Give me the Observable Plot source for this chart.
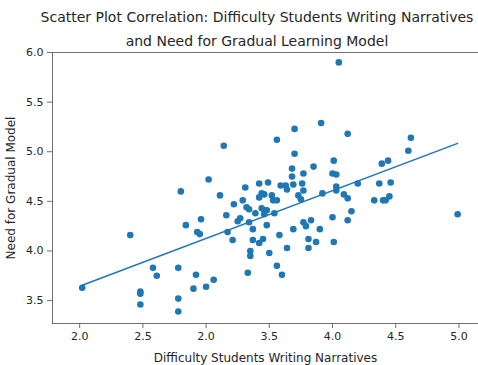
<!DOCTYPE html>
<html><head><meta charset="utf-8">
<script src="https://cdn.jsdelivr.net/npm/d3@7"></script>
<script src="https://cdn.jsdelivr.net/npm/@observablehq/plot@0.6"></script>
<style>
body{margin:0;background:#fff;font-family:"DejaVu Sans",sans-serif;}
#wrap{width:478px;height:365px;position:relative;overflow:hidden;background:#fff}
#title{height:48px;box-sizing:border-box;padding-top:5px;padding-left:36px;text-align:center;font-size:14px;line-height:24px;color:#262626;white-space:nowrap;position:relative;z-index:1}
</style></head><body>
<div id="wrap"><div id="title">Scatter Plot Correlation: Difficulty Students Writing Narratives<br>and Need for Gradual Learning Model</div><div id="chart"></div></div>
<script>
const xs = [
2.02,2.40,2.48,2.48,2.48,2.58,2.61,2.78,2.78,2.78,
2.80,2.84,2.93,2.95,2.96,3.02,3.11,2.92,2.90,3.00,
3.06,3.16,3.17,3.21,3.22,3.25,3.27,3.29,3.31,3.32,
3.34,3.34,3.37,3.37,3.39,3.35,3.35,3.33,3.42,3.42,
3.42,3.14,4.05,3.91,3.70,4.12,3.56,4.62,4.60,3.70,
4.44,4.39,4.01,3.68,3.85,3.68,3.77,4.00,4.03,3.49,
3.59,3.63,3.69,3.76,4.03,4.20,4.37,4.46,3.77,3.64,
4.03,3.44,3.46,3.52,3.53,3.56,3.44,3.46,3.48,3.46,
3.54,3.48,3.45,3.58,3.50,3.56,3.60,3.64,3.69,3.77,
3.79,3.83,3.90,3.81,3.87,3.81,3.73,3.75,3.92,4.00,
4.01,4.09,4.12,4.15,4.12,4.33,4.40,4.45,4.42,4.99];
const ys = [
3.63,4.16,3.59,3.57,3.46,3.83,3.75,3.83,3.52,3.39,
4.60,4.26,4.19,4.17,4.32,4.72,4.56,3.76,3.62,3.64,
3.71,4.36,4.19,4.11,4.47,4.30,4.33,4.51,4.64,4.44,
4.29,4.42,4.22,4.11,4.38,4.00,3.95,3.78,4.68,4.54,
4.08,5.06,5.90,5.29,5.23,5.18,5.12,5.14,5.01,4.98,
4.91,4.88,4.91,4.83,4.85,4.75,4.78,4.78,4.77,4.69,
4.66,4.66,4.67,4.68,4.65,4.68,4.68,4.69,4.61,4.62,
4.61,4.58,4.57,4.56,4.51,4.51,4.43,4.41,4.41,4.37,
4.38,4.26,4.12,4.16,3.98,3.85,3.76,4.03,4.22,4.29,
4.25,4.31,4.22,4.12,4.09,4.03,4.56,4.52,4.58,4.34,
4.09,4.57,4.53,4.40,4.31,4.51,4.51,4.55,4.51,4.37];
const xTicks = [2.0,2.5,3.0,3.5,4.0,4.5,5.0];
const xTickLabels = ["2.0","2.5","2.0","3.5","4.0","4.5","5.0"];
const yTicks = [3.5,4.0,4.5,5.0,5.5,6.0];
const yTickLabels = ["3.5","4.0","4.5","5.0","5.5","6.0"];
const xLabel = "Difficulty Students Writing Narratives";
const yLabel = "Need for Gradual Model";

const data = xs.map((x, i) => ({x, y: ys[i]}));
const blue = "#1f77b4";
const spine = "#707070";
const ink = "#262626";

const chart = Plot.plot({
  width: 478, height: 317,
  marginTop: 4, marginLeft: 52, marginRight: 0, marginBottom: 42,
  style: {background: "transparent", overflow: "visible", fontFamily: "DejaVu Sans", fontSize: "11px", color: ink},
  x: {domain: [1.785, 5.155]},
  y: {domain: [3.269, 6.0]},
  marks: [
    Plot.frame({anchor: "left", stroke: spine}),
    Plot.frame({anchor: "bottom", stroke: spine}),
    Plot.frame({anchor: "top", stroke: spine}),
    Plot.axisX({ticks: xTicks, tickFormat: d => xTickLabels[xTicks.indexOf(d)], tickSize: 5, tickPadding: 4,
      stroke: spine, fill: ink, fontSize: 11, label: null}),
    Plot.axisX({ticks: [], label: xLabel, labelAnchor: "center", labelArrow: "none", labelOffset: 38, fill: ink, fontSize: 12}),
    Plot.axisY({ticks: yTicks, tickFormat: d => yTickLabels[yTicks.indexOf(d)], tickSize: 5, tickPadding: 4,
      stroke: spine, fill: ink, fontSize: 11, label: null}),
    Plot.axisY({ticks: [], label: yLabel, labelAnchor: "center", labelArrow: "none", labelOffset: 46, fill: ink, fontSize: 12}),
    Plot.dot(data, {x: "x", y: "y", r: 3.3, fill: blue, stroke: "none"}),
    Plot.linearRegressionY(data, {x: "x", y: "y", ci: 0, stroke: blue, strokeWidth: 1.5})
  ]
});
document.getElementById("chart").appendChild(chart);
</script>
</body></html>
